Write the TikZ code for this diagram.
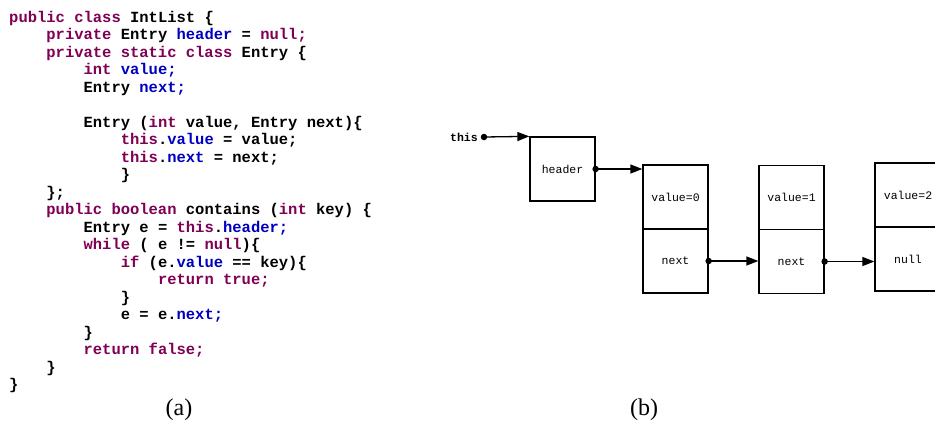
\documentclass[tikz,border=0pt]{standalone}
\usepackage{fontspec}
\usetikzlibrary{arrows.meta}
\setmainfont{Liberation Serif}
\newfontfamily\codefont{Liberation Mono}
\definecolor{kwc}{RGB}{127,0,85}
\definecolor{fdc}{RGB}{0,0,192}
\newcommand\kw[1]{\textcolor{kwc}{#1}}
\newcommand\fd[1]{\textcolor{fdc}{#1}}
\tikzset{
  codeline/.style={anchor=base west, inner sep=0pt, font=\codefont\bfseries\fontsize{15.5}{17.5}\selectfont},
  cell/.style={draw, line width=1.3pt, minimum width=65pt, minimum height=64pt, inner sep=0pt, font=\codefont\fontsize{11.5}{13}\selectfont},
  link/.style={line width=1.3pt, -{Triangle[length=12pt,width=9pt]}},
  dot/.style={fill, circle, inner sep=0pt, minimum size=6.5pt},
  caption/.style={font=\fontsize{24}{26}\selectfont}
}
\begin{document}
\begin{tikzpicture}[x=1pt,y=-1pt]
\clip (0,0) rectangle (935,421);
\fill[white] (0,0) rectangle (935,421);
% code
\def\ind{37.2}
\node[codeline] (l1) at (9,22) {\kw{public class} IntList \{};
\node[codeline] (l2) at (9+\ind,39.5) {\kw{private} Entry \fd{header} = \kw{null;}};
\node[codeline] (l3) at (9+\ind,57) {\kw{private static class} Entry \{};
\node[codeline] (l4) at (9+2*\ind,74.5) {\kw{int} \fd{value;}};
\node[codeline] (l5) at (9+2*\ind,92) {Entry \fd{next;}};
\node[codeline] (l7) at (9+2*\ind,127) {Entry (\kw{int} value, Entry next)\{};
\node[codeline] (l8) at (9+3*\ind,144.5) {\kw{this}.\fd{value} = value;};
\node[codeline] (l9) at (9+3*\ind,162) {\kw{this}.\fd{next} = next;};
\node[codeline] (l10) at (9+3*\ind,179.5) {\}};
\node[codeline] (l11) at (9+\ind,197) {\};};
\node[codeline] (l12) at (9+\ind,214.5) {\kw{public boolean} contains (\kw{int} key) \{};
\node[codeline] (l13) at (9+2*\ind,232) {Entry e = \kw{this}.\fd{header;}};
\node[codeline] (l14) at (9+2*\ind,249.5) {\kw{while} ( e != \kw{null})\{};
\node[codeline] (l15) at (9+3*\ind,267) {\kw{if} (e.\fd{value} == key)\{};
\node[codeline] (l16) at (9+4*\ind,284.5) {\kw{return true;}};
\node[codeline] (l17) at (9+3*\ind,302) {\}};
\node[codeline] (l18) at (9+3*\ind,319.5) {e = e.\fd{next;}};
\node[codeline] (l19) at (9+2*\ind,337) {\}};
\node[codeline] (l20) at (9+2*\ind,354.5) {\kw{return false;}};
\node[codeline] (l21) at (9+\ind,372) {\}};
\node[codeline] (l22) at (9,389.5) {\}};
% diagram
\node[anchor=east, inner sep=0pt, font=\codefont\bfseries\fontsize{11.5}{13}\selectfont] (this) at (478,137) {this};
\node[dot] (thisdot) at (484,137) {};
\node[cell] (header) at (562.5,169) {header};
\node[cell] (v0) at (675.5,197) {value=0};
\node[cell] (n0) at (675.5,261) {next};
\node[cell] (v1) at (791.5,197.5) {value=1};
\node[cell] (n1) at (791.5,261.5) {next};
\node[cell, minimum width=66pt] (v2) at (908,195) {value=2};
\node[cell, minimum width=66pt] (n2) at (908,259) {null};
\draw[link] (thisdot.center) -- (header.north west);
\draw[link] (header.east) -- (header.east -| v0.west);
\node[dot] at (header.east) {};
\draw[link] (n0.east) -- (n0.east -| v1.west);
\node[dot] at (n0.east) {};
\draw[link] (n1.east) -- (n1.east -| v2.west);
\node[dot] at (n1.east) {};
% captions
\node[caption] (capa) at (179,410) {(a)};
\node[caption] (capb) at (644,410) {(b)};
\end{tikzpicture}
\end{document}
